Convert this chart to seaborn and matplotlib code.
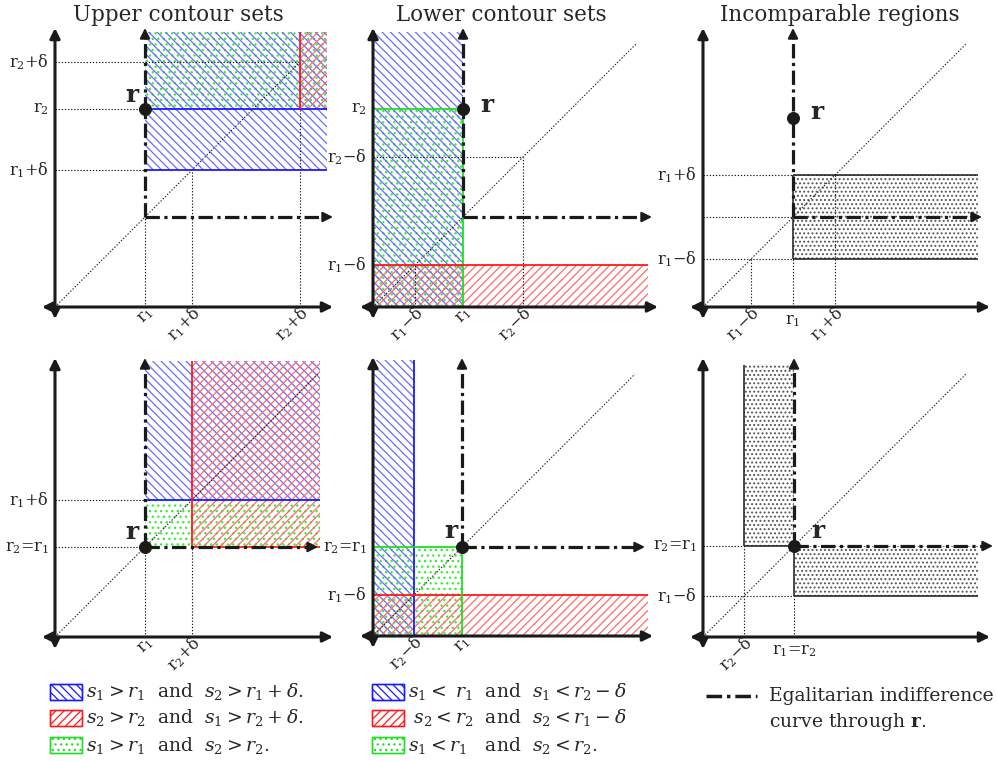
import matplotlib
matplotlib.use("Agg")
import matplotlib.pyplot as plt
from matplotlib.patches import Rectangle
import seaborn as sns

sns.set_theme(style="white")
plt.rcParams["font.family"] = ["DejaVu Serif"]
plt.rcParams["mathtext.fontset"] = "dejavuserif"
plt.rcParams["hatch.linewidth"] = 0.9

# ---- diagram values (one entry per panel, pixel-like units) ----
titles = ["Upper contour sets", "Lower contour sets", "Incomparable regions"]
r1 = [90, 90, 90, 90, 89, 91]
r2 = [198, 198, 189, 90, 89, 91]
delta = [47, 48, 42, 47, 48, 50]

legend_upper = [r"$s_1 > r_1$  and  $s_2 > r_1 + \delta$.",
                r"$s_2 > r_2$  and  $s_1 > r_2 + \delta$.",
                r"$s_1 > r_1$  and  $s_2 > r_2$."]
legend_lower = [r"$s_1 <\ r_1$  and  $s_1 < r_2 - \delta$",
                r" $s_2 < r_2$  and  $s_2 < r_1 - \delta$",
                r"$s_1 < r_1$   and  $s_2 < r_2$."]
legend_egal = ["Egalitarian indifference", r"curve through $\mathbf{r}$."]

# ---- layout ----
W, H = 997, 761
origins = [(55, 307), (373, 307), (703, 307), (55, 637), (373, 636), (703, 637)]
x_ends = [278, 285, 287, 278, 280, 287]
PAD, SPAN = 20, 320

BLUE, RED, GREEN = "#1a1aff", "#ff1a1a", "#22dd22"
STYLE = {"blue": ("#6a6aff", "\\\\\\\\"), "red": ("#ff6a6a", "////"),
         "green": ("#30ee30", "..."), "gray": ("#555555", "....")}
DASH = (4.5, 1.4, 1, 1.4)
FS = 11.5

fig = plt.figure(figsize=(W / 100, H / 100), dpi=100)
fig.patch.set_facecolor("white")


def panel_axes(ox, oy):
    ax = fig.add_axes([(ox - PAD) / W, (H - oy - PAD) / H, SPAN / W, SPAN / H])
    ax.set_xlim(-PAD, SPAN - PAD)
    ax.set_ylim(-PAD, SPAN - PAD)
    ax.axis("off")
    ax.patch.set_alpha(0)
    return ax


def region(ax, x0, x1, y0, y1, kind):
    col, hatch = STYLE[kind]
    ax.add_patch(Rectangle((x0, y0), x1 - x0, y1 - y0, fill=False, edgecolor=col,
                           lw=0, hatch=hatch, zorder=1))


def seg(ax, xs, ys, color, lw=1.3):
    ax.plot(xs, ys, color=color, lw=lw, zorder=3, solid_capstyle="butt")


def guide(ax, xs, ys):
    ax.plot(xs, ys, color="k", lw=0.8, ls=(0, (1.2, 1.6)), zorder=2)


def arrowhead(ax, tip, tail, style="-|>", lw=2.2):
    ax.annotate("", xy=tip, xytext=tail, annotation_clip=False,
                arrowprops=dict(arrowstyle=style, color="k", lw=lw, mutation_scale=15,
                                shrinkA=0, shrinkB=0), zorder=6)


def axes_arrows(ax, x_end, y_end=279):
    arrowhead(ax, (x_end, 0), (-13, 0), "<|-|>")
    arrowhead(ax, (0, y_end), (0, -12), "<|-|>")


def egal(ax, x, y, top, right):
    ax.plot([x, x], [y, top - 8], color="k", lw=2.3, dashes=DASH, zorder=5)
    ax.plot([x, right - 8], [y, y], color="k", lw=2.3, dashes=DASH, zorder=5)
    arrowhead(ax, (x, top), (x, top - 9), lw=1.5)
    arrowhead(ax, (right, y), (right - 9, y), lw=1.5)


def diag(ax, end):
    sns.lineplot(x=[0, end], y=[0, end], ax=ax, color="k", lw=0.8,
                 linestyle=(0, (1.2, 1.6)), zorder=2)


def point(ax, x, y, dx, dy):
    sns.scatterplot(x=[x], y=[y], ax=ax, color="k", s=75, edgecolor="k", zorder=8)
    ax.text(x + dx, y + dy, "r", fontsize=18, fontweight="bold", ha="center", va="center")


def yticks(ax, items):
    for y, s in items:
        ax.text(-6, y, s, fontsize=FS, ha="right", va="center")


def xticks(ax, items):
    for x, s, rot in items:
        if rot:
            ax.text(x + 6, -3, s, fontsize=FS, rotation=45, ha="right", va="center",
                    rotation_mode="anchor")
        else:
            ax.text(x, -5, s, fontsize=FS, ha="center", va="top")


axs = [panel_axes(ox, oy) for ox, oy in origins]

# ---- panel 1: upper contour sets, r2 > r1 ----
ax, a, b, d = axs[0], r1[0], r2[0], delta[0]
region(ax, a, 272, b, 275, "green")
region(ax, a, 272, a + d, 275, "blue")
region(ax, b + d, 272, b, 275, "red")
seg(ax, [a, 272], [a + d, a + d], BLUE)
seg(ax, [a, 272], [b, b], BLUE)
seg(ax, [b + d, b + d], [b, 275], RED)
guide(ax, [0, b + d], [b + d, b + d])
guide(ax, [0, a], [b, b])
guide(ax, [0, a], [a + d, a + d])
guide(ax, [a, a], [0, a])
guide(ax, [a + d, a + d], [0, a + d])
guide(ax, [b + d, b + d], [0, b + d])
diag(ax, b + d)
egal(ax, a, a, 279, 278)
point(ax, a, b, -13, 14)
yticks(ax, [(b + d, "r$_2$+δ"), (b, "r$_2$"), (a + d, "r$_1$+δ")])
xticks(ax, [(a, "r$_1$", True), (a + d, "r$_1$+δ", True), (b + d, "r$_2$+δ", True)])

# ---- panel 2: lower contour sets, r2 > r1 ----
ax, a, b, d = axs[1], r1[1], r2[1], delta[1]
region(ax, 0, a, 0, b, "green")
region(ax, 0, a, 0, 275, "blue")
region(ax, 0, 275, 0, a - d, "red")
seg(ax, [0, a], [b, b], GREEN)
seg(ax, [a, a], [0, b], GREEN)
seg(ax, [0, 275], [a - d, a - d], RED)
guide(ax, [0, b - d], [b - d, b - d])
guide(ax, [0, a], [a - d, a - d])
guide(ax, [a - d, a - d], [0, a - d])
guide(ax, [b - d, b - d], [0, b - d])
diag(ax, 263)
egal(ax, a, a, 279, 279)
point(ax, a, b, 24, 4)
yticks(ax, [(b, "r$_2$"), (b - d, "r$_2$−δ"), (a - d, "r$_1$−δ")])
xticks(ax, [(a - d, "r$_1$−δ", True), (a, "r$_1$", True), (b - d, "r$_2$−δ", True)])

# ---- panel 3: incomparable, r2 > r1 ----
ax, a, b, d = axs[2], r1[2], r2[2], delta[2]
region(ax, a, 275, a - d, a + d, "gray")
seg(ax, [a, 275], [a + d, a + d], "k", 1.1)
seg(ax, [a, 275], [a - d, a - d], "k", 1.1)
seg(ax, [a, a], [a - d, a + d], "k", 1.1)
guide(ax, [0, a], [a + d, a + d])
guide(ax, [0, a], [a, a])
guide(ax, [0, a], [a - d, a - d])
guide(ax, [a - d, a - d], [0, a - d])
guide(ax, [a, a], [0, a - d])
guide(ax, [a + d, a + d], [0, a + d])
diag(ax, 263)
egal(ax, a, a, 279, 279)
point(ax, a, b, 24, 6)
yticks(ax, [(a + d, "r$_1$+δ"), (a - d, "r$_1$−δ")])
xticks(ax, [(a - d, "r$_1$−δ", True), (a, "r$_1$", False), (a + d, "r$_1$+δ", True)])

# ---- panel 4: upper contour sets, r1 = r2 ----
ax, a, b, d = axs[3], r1[3], r2[3], delta[3]
region(ax, a, 265, b, a + d, "green")
region(ax, a, 265, a + d, 276, "blue")
region(ax, b + d, 265, b, 276, "red")
seg(ax, [a, 265], [a + d, a + d], BLUE)
seg(ax, [b + d, b + d], [b, 276], RED)
seg(ax, [b + d, 265], [b, b], RED)
guide(ax, [0, a], [a + d, a + d])
guide(ax, [0, a], [b, b])
guide(ax, [a, a], [0, a])
guide(ax, [b + d, b + d], [0, b])
diag(ax, 263)
egal(ax, a, a, 279, 263)
point(ax, a, b, -13, 15)
yticks(ax, [(a + d, "r$_1$+δ"), (b, "r$_2$=r$_1$")])
xticks(ax, [(a, "r$_1$", True), (b + d, "r$_2$+δ", True)])

# ---- panel 5: lower contour sets, r1 = r2 ----
ax, a, b, d = axs[4], r1[4], r2[4], delta[4]
region(ax, 0, a, 0, b, "green")
region(ax, 0, b - d, 0, 276, "blue")
region(ax, 0, 275, 0, a - d, "red")
seg(ax, [b - d, b - d], [0, 276], BLUE)
seg(ax, [0, 275], [a - d, a - d], RED)
seg(ax, [0, a], [b, b], GREEN)
seg(ax, [a, a], [0, b], GREEN)
diag(ax, 262)
egal(ax, a, a, 278, 272)
point(ax, a, b, -11, 16)
yticks(ax, [(b, "r$_2$=r$_1$"), (a - d, "r$_1$−δ")])
xticks(ax, [(b - d, "r$_2$−δ", True), (a, "r$_1$", True)])

# ---- panel 6: incomparable, r1 = r2 ----
ax, a, b, d = axs[5], r1[5], r2[5], delta[5]
region(ax, b - d, a, b, 272, "gray")
region(ax, a, 275, a - d, b, "gray")
seg(ax, [b - d, b - d], [b, 272], "k", 1.1)
seg(ax, [b - d, a], [b, b], "k", 1.1)
seg(ax, [a, a], [a - d, b], "k", 1.1)
seg(ax, [a, 275], [a - d, a - d], "k", 1.1)
guide(ax, [0, b - d], [b, b])
guide(ax, [0, a], [a - d, a - d])
guide(ax, [b - d, b - d], [0, b])
guide(ax, [a, a], [0, a - d])
diag(ax, 263)
egal(ax, a, b, 279, 290)
point(ax, a, b, 24, 15)
yticks(ax, [(b, "r$_2$=r$_1$"), (a - d, "r$_1$−δ")])
xticks(ax, [(b - d, "r$_2$−δ", True), (a, "r$_1$=r$_2$", False)])

for ax, xe in zip(axs, x_ends):
    axes_arrows(ax, xe)
    ax.set_xlim(-PAD, SPAN - PAD)
    ax.set_ylim(-PAD, SPAN - PAD)

# ---- titles and legend on a full-figure overlay ----
ov = fig.add_axes([0, 0, 1, 1])
ov.set_xlim(0, W)
ov.set_ylim(H, 0)
ov.axis("off")
ov.patch.set_alpha(0)

for cx, t in zip([178, 501, 840], titles):
    ov.text(cx, 15, t, fontsize=15.5, ha="center", va="center")

rows = [692, 718, 745]
for x0, texts in [(50, legend_upper), (372, legend_lower)]:
    for y, kind, lc, s in zip(rows, ["blue", "red", "green"], [BLUE, RED, GREEN], texts):
        hc, hatch = STYLE[kind]
        ov.add_patch(Rectangle((x0, y - 8), 32, 16, facecolor="white", edgecolor=lc,
                               lw=1.0, hatch=hatch))
        ov.add_patch(Rectangle((x0, y - 8), 32, 16, fill=False, edgecolor=lc, lw=1.0))
        ov.text(x0 + 36, y, s, fontsize=13.5, ha="left", va="center")

ov.plot([706, 757], [696, 696], color="k", lw=2.5, dashes=DASH)
ov.text(769, 696, legend_egal[0], fontsize=13.5, ha="left", va="center")
ov.text(769, 722, legend_egal[1], fontsize=13.5, ha="left", va="center")

fig.savefig("out.png", dpi=100, facecolor="white")
